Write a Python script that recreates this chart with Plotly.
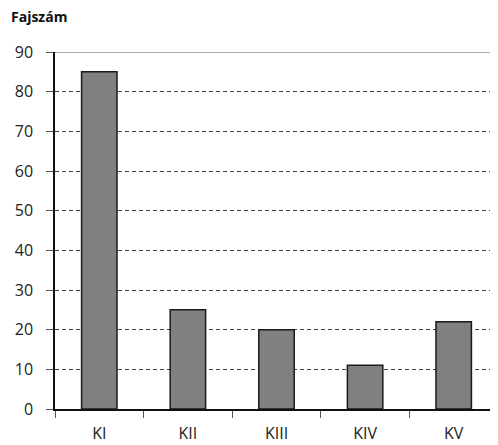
import plotly.graph_objects as go

categories = ["KI", "KII", "KIII", "KIV", "KV"]
values = [85, 25, 20, 11, 22]
y_ticks = [0, 10, 20, 30, 40, 50, 60, 70, 80, 90]
y_max = 90
y_title = "Fajszám"

fig = go.Figure()
fig.add_trace(go.Bar(
    x=categories, y=values,
    marker=dict(color="#808080", line=dict(color="#1a1a1a", width=1.5)),
    width=0.4,
))

fig.add_shape(type="line", xref="paper", yref="y", x0=0, x1=1, y0=y_max, y1=y_max,
              line=dict(color="#8c8c8c", width=1.5), layer="above")

fig.update_layout(
    width=490, height=437,
    margin=dict(l=47, r=0, t=44, b=36),
    plot_bgcolor="white", paper_bgcolor="white",
    font=dict(family="Open Sans, Liberation Sans, sans-serif", size=16, color="#222"),
    showlegend=False,
    annotations=[dict(text="<b>" + y_title + "</b>", xref="paper", yref="paper",
                      x=0, y=1, xanchor="left", yanchor="bottom", xshift=-46, yshift=24,
                      showarrow=False, font=dict(size=14, color="#111"))],
)
fig.update_xaxes(
    showline=True, linecolor="#111", linewidth=1.5,
    ticks="outside", ticklen=7, tickcolor="#555", tickwidth=1,
    tickson="boundaries", ticklabelstandoff=9, automargin=False,
    showgrid=False,
)
fig.update_yaxes(
    range=[0, y_max], tickvals=y_ticks,
    showline=True, linecolor="#111", linewidth=1.5,
    ticks="outside", ticklen=7, tickcolor="#555", tickwidth=1,
    showgrid=True, gridcolor="#444", gridwidth=1, griddash="4px,3px",
    zeroline=False, ticklabelstandoff=10, automargin=False,
)
fig.write_html("out.html")
